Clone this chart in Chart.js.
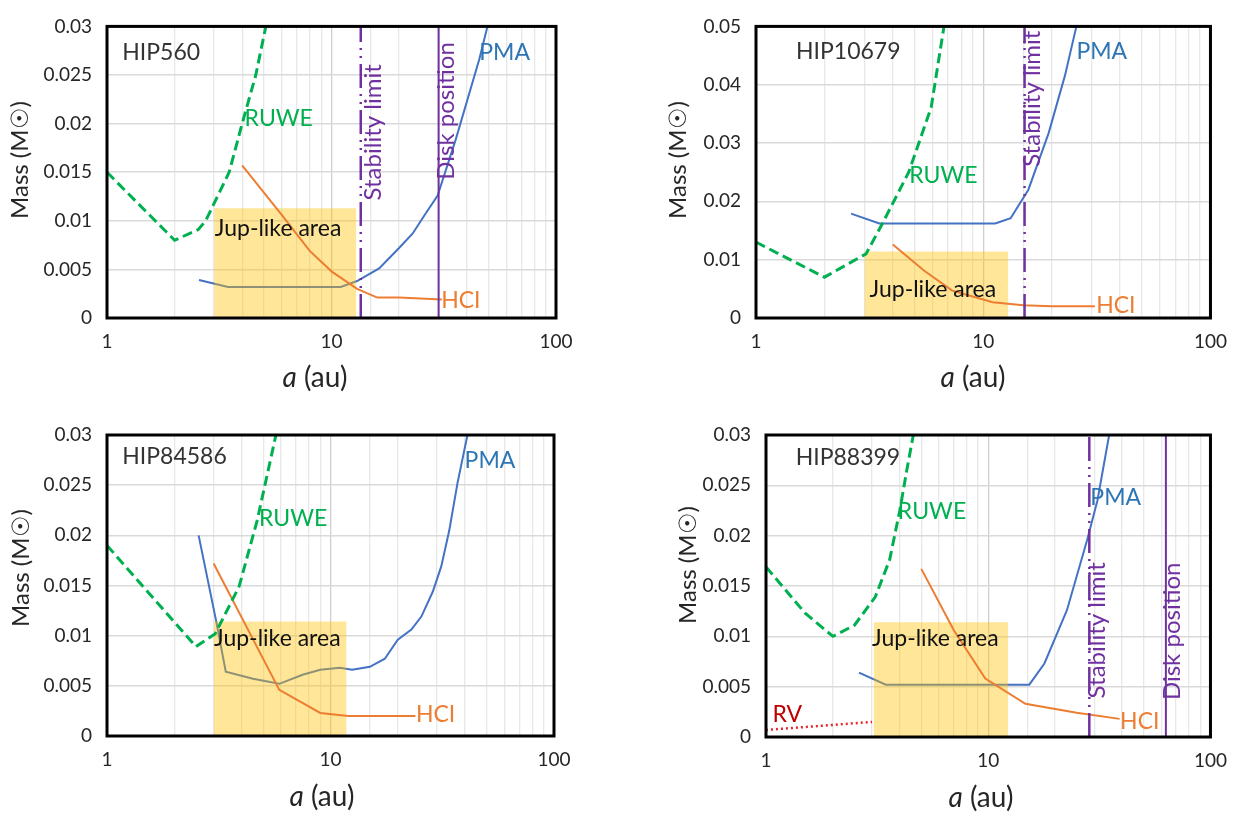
<!DOCTYPE html>
<html>
<head>
<meta charset="utf-8">
<script src="https://cdn.jsdelivr.net/npm/chart.js@4.4.1/dist/chart.umd.min.js"></script>
<style>
  body { margin: 0; background: #fff; width: 1239px; height: 813px; position: relative; overflow: hidden; }
  canvas { position: absolute; }
</style>
</head>
<body>
<canvas id="c1" width="615" height="405" style="left:0;top:0"></canvas>
<canvas id="c2" width="624" height="405" style="left:615px;top:0"></canvas>
<canvas id="c3" width="615" height="408" style="left:0;top:405px"></canvas>
<canvas id="c4" width="624" height="408" style="left:615px;top:405px"></canvas>
<script>
// ---- data (a in au, mass in Msun) ----
const xTicks = [1, 10, 100];

// HIP560
const hip560RuweA = [1, 2, 2.55, 2.75, 3.5, 4, 4.6, 5.1, 5.5];
const hip560RuweM = [0.015, 0.008, 0.0091, 0.01, 0.015, 0.02, 0.025, 0.03, 0.034];
const hip560PmaA = [2.57, 3.46, 11, 13, 16.3, 20, 23, 26, 29.7, 35.8, 45.5, 49.5, 53];
const hip560PmaM = [0.0039, 0.0032, 0.0032, 0.0038, 0.0051, 0.0072, 0.0087, 0.0106, 0.0126, 0.0184, 0.0266, 0.03, 0.033];
const hip560HciA = [4, 6, 8, 10, 13, 16, 20, 31];
const hip560HciM = [0.0157, 0.0106, 0.0069, 0.0048, 0.003, 0.0021, 0.0021, 0.0019];
const hip560Jup = [3, 12.9, 0.0113];
const hip560Stability = 13.5;
const hip560Disk = 30;

// HIP10679
const hip10679RuweA = [1, 2, 3.05, 3.6, 4.7, 5.9, 6.7, 7.2];
const hip10679RuweM = [0.013, 0.007, 0.011, 0.0162, 0.025, 0.0361, 0.0497, 0.057];
const hip10679PmaA = [2.62, 3.49, 11.3, 13.2, 15.8, 19.4, 22.9, 25.7, 28];
const hip10679PmaM = [0.0179, 0.0162, 0.0162, 0.0171, 0.022, 0.0317, 0.0416, 0.05, 0.057];
const hip10679HciA = [4, 5.5, 7.3, 11, 15, 20, 31];
const hip10679HciM = [0.0126, 0.0081, 0.0047, 0.0027, 0.0022, 0.002, 0.002];
const hip10679Jup = [3, 12.9, 0.0114];
const hip10679Stability = 15.2;

// HIP84586
const hip84586RuweA = [1, 2.5, 3.05, 3.9, 4.7, 5.7, 6.1];
const hip84586RuweM = [0.019, 0.0089, 0.0102, 0.0149, 0.0215, 0.03, 0.0335];
const hip84586PmaA = [2.57, 3.07, 3.4, 4.5, 5.9, 7.5, 9, 11, 12.5, 15, 17.5, 20, 23, 25.5, 28.7, 31.3, 34, 37, 41, 43];
const hip84586PmaM = [0.02, 0.0116, 0.0064, 0.0057, 0.0052, 0.0061, 0.0066, 0.0068, 0.0066, 0.0069, 0.0077, 0.0096, 0.0106, 0.0119, 0.0144, 0.0169, 0.0205, 0.0252, 0.03, 0.033];
const hip84586HciA = [3, 5.9, 9, 12, 24];
const hip84586HciM = [0.0172, 0.0046, 0.0023, 0.002, 0.002];
const hip84586Jup = [3, 11.8, 0.0114];

// HIP88399
const hip88399RuweA = [1, 1.5, 2, 2.5, 3.1, 3.6, 4, 4.3, 4.6, 4.9];
const hip88399RuweM = [0.0169, 0.0123, 0.01, 0.0111, 0.0139, 0.0176, 0.0225, 0.0265, 0.03, 0.034];
const hip88399PmaA = [2.62, 3.46, 15.3, 17.9, 22.6, 27.8, 31, 35, 37];
const hip88399PmaM = [0.0064, 0.0052, 0.0052, 0.0073, 0.0126, 0.0195, 0.0235, 0.03, 0.033];
const hip88399HciA = [5, 7, 9.7, 14.7, 25, 39];
const hip88399HciM = [0.0167, 0.0106, 0.0058, 0.0033, 0.0024, 0.0018];
const hip88399RvA = [1, 3];
const hip88399RvM = [0.0007, 0.0015];
const hip88399Jup = [3.05, 12.3, 0.0114];
const hip88399Stability = 28.5;
const hip88399Disk = 63;

// ---- styling ----
const FONT = 'Lato, "Open Sans", sans-serif';
const BLUE = '#4472C4', ORANGE = '#ED7D31', GREEN = '#00B050', PURPLE = '#7030A0', RED = '#E8262B';

const pts = (a, m) => a.map((v, i) => ({ x: v, y: m[i] }));
const isMajor = v => Math.abs(Math.log10(v) - Math.round(Math.log10(v))) < 1e-6;

// frame, in-plot labels and axis titles
const decor = {
  id: 'decor',
  afterDatasetsDraw(chart, args, opts) {
    const { ctx, chartArea: ca, scales: { x, y } } = chart;
    opts.labels.forEach(l => {
      ctx.save();
      ctx.font = (l.size || 23) + 'px ' + FONT;
      ctx.fillStyle = l.color;
      ctx.textBaseline = 'middle';
      ctx.textAlign = l.align || 'left';
      ctx.translate(x.getPixelForValue(l.x), y.getPixelForValue(l.y));
      if (l.rot) ctx.rotate(-Math.PI / 2);
      ctx.fillText(l.text, 0, 0);
      ctx.restore();
    });
    ctx.save();
    ctx.strokeStyle = '#000';
    ctx.lineWidth = 3;
    ctx.strokeRect(ca.left, ca.top, ca.right - ca.left, ca.bottom - ca.top);
    ctx.restore();
  },
  afterDraw(chart, args, opts) {
    const ctx = chart.ctx;
    ctx.save();
    ctx.fillStyle = '#262626';
    ctx.textBaseline = 'middle';
    // x title: italic a + (au)
    ctx.font = 'italic 28px ' + FONT;
    const w1 = ctx.measureText('a').width;
    ctx.font = '28px ' + FONT;
    const w2 = ctx.measureText(' (au)').width;
    const x0 = opts.xTitle[0] - (w1 + w2) / 2;
    ctx.textAlign = 'left';
    ctx.font = 'italic 28px ' + FONT;
    ctx.fillText('a', x0, opts.xTitle[1]);
    ctx.font = '28px ' + FONT;
    ctx.fillText(' (au)', x0 + w1, opts.xTitle[1]);
    // y title
    ctx.translate(opts.yTitle[0], opts.yTitle[1]);
    ctx.rotate(-Math.PI / 2);
    ctx.textAlign = 'center';
    ctx.font = '24px ' + FONT;
    ctx.fillText('Mass (M\u2609)', 0, 0);
    ctx.restore();
  }
};

function vline(a, yMax, dash) {
  return {
    data: [{ x: a, y: 0 }, { x: a, y: yMax }],
    borderColor: PURPLE, borderWidth: dash ? 2.5 : 2, borderDash: dash ? [24, 6, 2, 6, 2, 6] : [],
    order: 1
  };
}

function panel(id, p) {
  const ds = [
    { data: pts(p.pmaA, p.pmaM), borderColor: BLUE, borderWidth: 2, order: 6 },
    { data: [{ x: p.jup[0], y: p.jup[2] }, { x: p.jup[1], y: p.jup[2] }], borderWidth: 0,
      backgroundColor: 'rgba(255,192,0,0.4)', fill: 'origin', order: 5 },
    { data: pts(p.hciA, p.hciM), borderColor: ORANGE, borderWidth: 2, order: 4 },
    { data: pts(p.ruweA, p.ruweM), borderColor: GREEN, borderWidth: 3, borderDash: [10, 5], order: 3 }
  ];
  if (p.rvA) ds.push({ data: pts(p.rvA, p.rvM), borderColor: RED, borderWidth: 2.5, borderDash: [2, 3], order: 3 });
  if (p.stability) ds.push(vline(p.stability, p.yMax, true));
  if (p.disk) ds.push(vline(p.disk, p.yMax, false));

  new Chart(document.getElementById(id), {
    type: 'line',
    data: { datasets: ds },
    options: {
      responsive: false,
      animation: false,
      events: [],
      elements: { point: { radius: 0 }, line: { tension: 0 } },
      layout: { padding: { left: 0, top: p.area.top, right: p.area.right, bottom: 0 } },
      plugins: {
        legend: { display: false },
        tooltip: { enabled: false },
        decor: { labels: p.labels, xTitle: p.xTitle, yTitle: p.yTitle }
      },
      scales: {
        x: {
          type: 'logarithmic', min: 1, max: 100,
          afterFit: s => { s.height = p.area.xh; },
          grid: { drawTicks: false, color: c => isMajor(c.tick.value) ? '#CFCFCF' : '#E8E8E8', lineWidth: 1.3 },
          border: { display: false },
          ticks: {
            autoSkip: false, maxRotation: 0, padding: 12, color: '#262626',
            font: { family: FONT, size: 19 },
            callback: v => xTicks.includes(Math.round(v)) && isMajor(v) ? String(Math.round(v)) : ''
          }
        },
        y: {
          min: 0, max: p.yMax,
          afterFit: s => { s.width = p.area.left; },
          grid: { drawTicks: false, color: '#DADADA', lineWidth: 1.5 },
          border: { display: false },
          ticks: {
            stepSize: p.yStep, padding: 15, color: '#262626',
            font: { family: FONT, size: 19 },
            callback: v => String(+v.toFixed(3))
          }
        }
      }
    },
    plugins: [decor]
  });
}

panel('c1', {
  ruweA: hip560RuweA, ruweM: hip560RuweM, pmaA: hip560PmaA, pmaM: hip560PmaM,
  hciA: hip560HciA, hciM: hip560HciM, jup: hip560Jup,
  stability: hip560Stability, disk: hip560Disk, yMax: 0.03, yStep: 0.005,
  area: { left: 107, top: 16, right: 59, xh: 87 },
  xTitle: [315, 378], yTitle: [20, 160],
  labels: [
    { text: 'HIP560', x: 1.17, y: 0.0273, color: '#333' },
    { text: 'RUWE', x: 4.1, y: 0.0205, color: GREEN },
    { text: 'Jup-like area', x: 5.78, y: 0.0092, color: '#111', align: 'center' },
    { text: 'PMA', x: 45.5, y: 0.0273, color: '#2E75B6' },
    { text: 'HCI', x: 30.8, y: 0.0018, color: ORANGE },
    { text: 'Stability limit', x: 15.4, y: 0.0191, color: PURPLE, rot: true, align: 'center', size: 24 },
    { text: 'Disk position', x: 32.4, y: 0.0213, color: PURPLE, rot: true, align: 'center', size: 24 }
  ]
});

panel('c2', {
  ruweA: hip10679RuweA, ruweM: hip10679RuweM, pmaA: hip10679PmaA, pmaM: hip10679PmaM,
  hciA: hip10679HciA, hciM: hip10679HciM, jup: hip10679Jup,
  stability: hip10679Stability, yMax: 0.05, yStep: 0.01,
  area: { left: 141, top: 16, right: 26, xh: 87 },
  xTitle: [358, 378], yTitle: [63, 160],
  labels: [
    { text: 'HIP10679', x: 1.5, y: 0.0457, color: '#333' },
    { text: 'RUWE', x: 4.72, y: 0.0245, color: GREEN },
    { text: 'Jup-like area', x: 6.0, y: 0.0049, color: '#111', align: 'center' },
    { text: 'PMA', x: 25.7, y: 0.0457, color: '#2E75B6' },
    { text: 'HCI', x: 31.4, y: 0.00215, color: ORANGE },
    { text: 'Stability limit', x: 16.5, y: 0.0376, color: PURPLE, rot: true, align: 'center', size: 24 }
  ]
});

panel('c3', {
  ruweA: hip84586RuweA, ruweM: hip84586RuweM, pmaA: hip84586PmaA, pmaM: hip84586PmaM,
  hciA: hip84586HciA, hciM: hip84586HciM, jup: hip84586Jup,
  yMax: 0.03, yStep: 0.005,
  area: { left: 107, top: 30, right: 61, xh: 77 },
  xTitle: [322, 392], yTitle: [21, 163],
  labels: [
    { text: 'HIP84586', x: 1.17, y: 0.0278, color: '#333' },
    { text: 'RUWE', x: 4.79, y: 0.0217, color: GREEN },
    { text: 'Jup-like area', x: 5.78, y: 0.0097, color: '#111', align: 'center' },
    { text: 'PMA', x: 39.8, y: 0.0275, color: '#2E75B6' },
    { text: 'HCI', x: 24.1, y: 0.0021, color: ORANGE }
  ]
});

panel('c4', {
  ruweA: hip88399RuweA, ruweM: hip88399RuweM, pmaA: hip88399PmaA, pmaM: hip88399PmaM,
  hciA: hip88399HciA, hciM: hip88399HciM, jup: hip88399Jup,
  rvA: hip88399RvA, rvM: hip88399RvM,
  stability: hip88399Stability, disk: hip88399Disk, yMax: 0.03, yStep: 0.005,
  area: { left: 151, top: 30, right: 24, xh: 76 },
  xTitle: [366, 393], yTitle: [73, 160],
  labels: [
    { text: 'HIP88399', x: 1.36, y: 0.0278, color: '#333' },
    { text: 'RUWE', x: 3.92, y: 0.0224, color: GREEN },
    { text: 'Jup-like area', x: 5.78, y: 0.0098, color: '#111', align: 'center' },
    { text: 'PMA', x: 28.8, y: 0.0238, color: '#2E75B6' },
    { text: 'HCI', x: 39.2, y: 0.0015, color: ORANGE },
    { text: 'RV', x: 1.07, y: 0.0022, color: '#C00000' },
    { text: 'Stability limit', x: 31, y: 0.0106, color: PURPLE, rot: true, align: 'center', size: 24 },
    { text: 'Disk position', x: 67, y: 0.0105, color: PURPLE, rot: true, align: 'center', size: 24 }
  ]
});
</script>
</body>
</html>
